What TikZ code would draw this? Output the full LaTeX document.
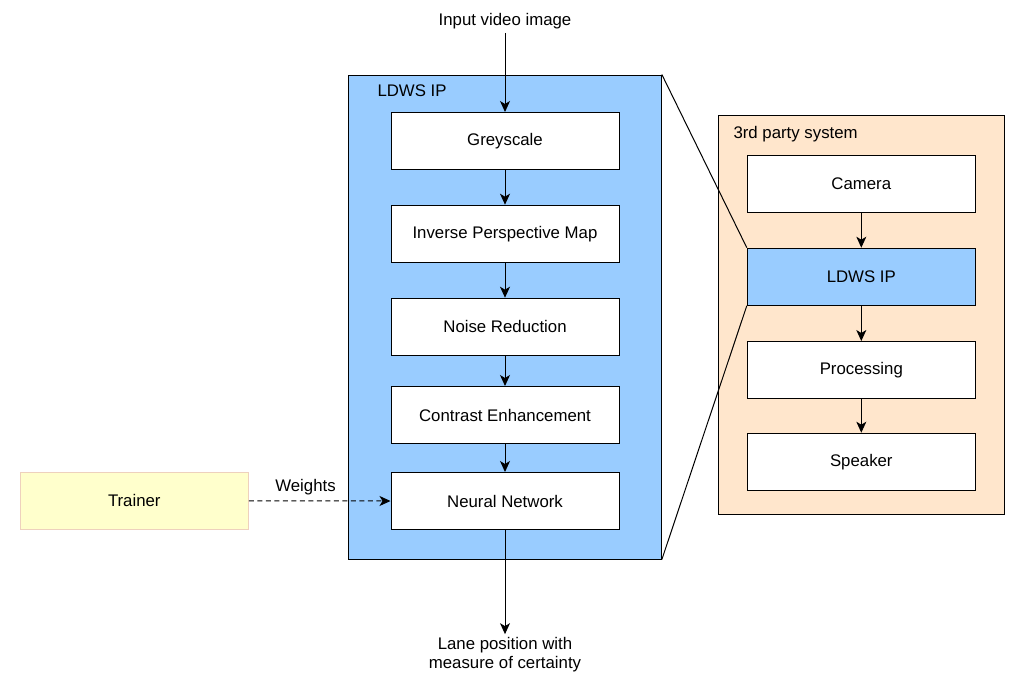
\documentclass[tikz,border=0pt]{standalone}
\usepackage{fontspec}
\setmainfont{Liberation Sans}
\usetikzlibrary{positioning,arrows.meta}
\definecolor{ipblue}{HTML}{99CCFF}
\definecolor{sysorange}{HTML}{FFE6CC}
\definecolor{trainfill}{HTML}{FFFFCC}
\definecolor{trainline}{HTML}{EED1BD}
\tikzset{
    stage/.style={draw, fill=white, line width=1pt, minimum width=228pt, minimum height=57pt, inner sep=0pt},
    flow/.style={-{Stealth[length=11pt,width=10pt,inset=3pt]}, line width=1pt},
}
\begin{document}
\begin{tikzpicture}[x=1pt, y=-1pt, font=\fontsize{16.8}{19}\selectfont]
    \useasboundingbox (0,0) rectangle (1032,688);
    \node[draw,fill=ipblue,line width=1pt,minimum width=312.7pt,minimum height=484pt,inner sep=0pt] at (505,317)(ldws){};
    \node[anchor=base west, inner sep=0pt] at (377.3,96.7)(ldwslabel){LDWS IP};
    \node[draw,fill=sysorange,line width=1pt,minimum width=286pt,minimum height=399pt,inner sep=0pt] at (861.3,314.5)(sys){};
    \node[anchor=base west, inner sep=0pt] at (733.3,138)(syslabel){3rd party system};

    \node at (505,21.5)(inp){Input video image};
    \node[stage] at (505,141)(grey){Greyscale};
    \node[stage] at (505,233.7)(ipm){Inverse Perspective Map};
    \node[stage] at (505,326.7)(noise){Noise Reduction};
    \node[stage] at (505,415)(contrast){Contrast Enhancement};
    \node[stage] at (505,501)(neural){Neural Network};
    \node[align=center] at (505,655)(outp){Lane position with\\measure of certainty};
    \node[stage,fill=trainfill,draw=trainline] at (134.3,500.8)(trainer){Trainer};

    \node[stage] at (861.3,184)(camera){Camera};
    \node[stage,fill=ipblue] at (861.3,276.7)(ldwsb){LDWS IP};
    \node[stage] at (861.3,370)(proc){Processing};
    \node[stage] at (861.3,461.7)(speaker){Speaker};

    \draw[flow](inp.south) -- (grey.north);
    \draw[flow](grey.south) -- (ipm.north);
    \draw[flow](ipm.south) -- (noise.north);
    \draw[flow](noise.south) -- (contrast.north);
    \draw[flow](contrast.south) -- (neural.north);
    \draw[flow](neural.south) -- (outp.north);
    \draw[flow,dash pattern=on 5pt off 3.5pt](trainer.east) -- node[pos=0.4,above=2pt]{Weights} (neural.west);

    \draw[flow](camera.south) -- (ldwsb.north);
    \draw[flow](ldwsb.south) -- (proc.north);
    \draw[flow](proc.south) -- (speaker.north);

    \draw[line width=1pt](ldws.north east) -- (ldwsb.north west);
    \draw[line width=1pt](ldws.south east) -- (ldwsb.south west);
\end{tikzpicture}
\end{document}
